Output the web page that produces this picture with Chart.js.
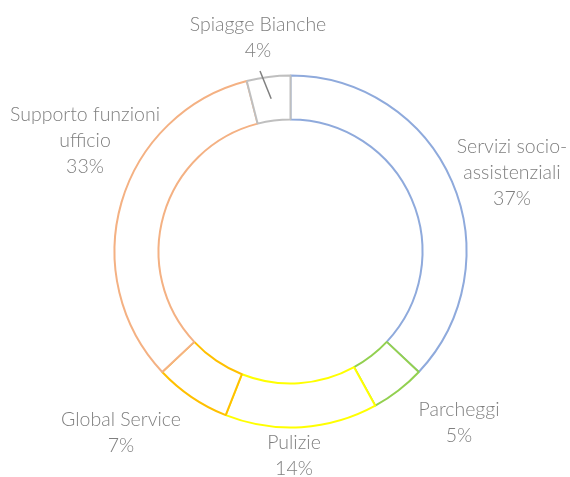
<!DOCTYPE html>
<html>
<head>
<meta charset="utf-8">
<script src="https://cdn.jsdelivr.net/npm/chart.js@4"></script>
<style>
  html, body { margin: 0; padding: 0; background: #fff; }
  #wrap { width: 570px; height: 477px; }
</style>
</head>
<body>
<div id="wrap"><canvas id="pie" width="570" height="477"></canvas></div>
<script>
const categories = ["Servizi socio-assistenziali", "Parcheggi", "Pulizie", "Global Service", "Supporto funzioni ufficio", "Spiagge Bianche"];
const shares = [37, 5, 14, 7, 33, 4];
// how each category name wraps in the label
const labelLines = [["Servizi socio-", "assistenziali"], ["Parcheggi"], ["Pulizie"], ["Global Service"], ["Supporto funzioni", "ufficio"], ["Spiagge Bianche"]];

const colors = ["#8faadc", "#92d050", "#ffff00", "#ffc000", "#f4b183", "#bfbfbf"];
// label centre (first line) placed by hand, like the original
const labelAnchor = [[512, 147], [459, 410], [294, 443], [121, 420], [85, 115], [258, 25]];

const outsideLabels = {
    id: "outsideLabels",
    afterDatasetsDraw(chart) {
        const ctx = chart.ctx;
        const arcs = chart.getDatasetMeta(0).data;
        ctx.save();
        ctx.font = "300 19.5px Lato";
        ctx.fillStyle = "#7f7f7f";
        ctx.textAlign = "center";
        ctx.textBaseline = "middle";
        const lh = 26;
        labelLines.forEach((lines, i) => {
            const [x, y] = labelAnchor[i];
            const all = lines.concat([shares[i] + "%"]);
            all.forEach((t, k) => ctx.fillText(t, x, y + k * lh));
        });
        // leader line for the small slice
        const p = arcs[5].tooltipPosition();
        ctx.strokeStyle = "#808080";
        ctx.lineWidth = 1.5;
        ctx.beginPath();
        ctx.moveTo(260, 71);
        ctx.lineTo(p.x, p.y);
        ctx.stroke();
        ctx.restore();
    }
};

new Chart(document.getElementById("pie"), {
    type: "doughnut",
    data: {
        labels: categories,
        datasets: [{
            data: shares,
            backgroundColor: "#ffffff",
            borderColor: colors,
            borderWidth: 2
        }]
    },
    options: {
        responsive: false,
        animation: false,
        cutout: "75%",
        layout: { padding: { top: 74.5, bottom: 48.5, left: 113.5, right: 102.5 } },
        plugins: {
            legend: { display: false },
            tooltip: { enabled: false }
        }
    },
    plugins: [outsideLabels]
});
</script>
</body>
</html>
